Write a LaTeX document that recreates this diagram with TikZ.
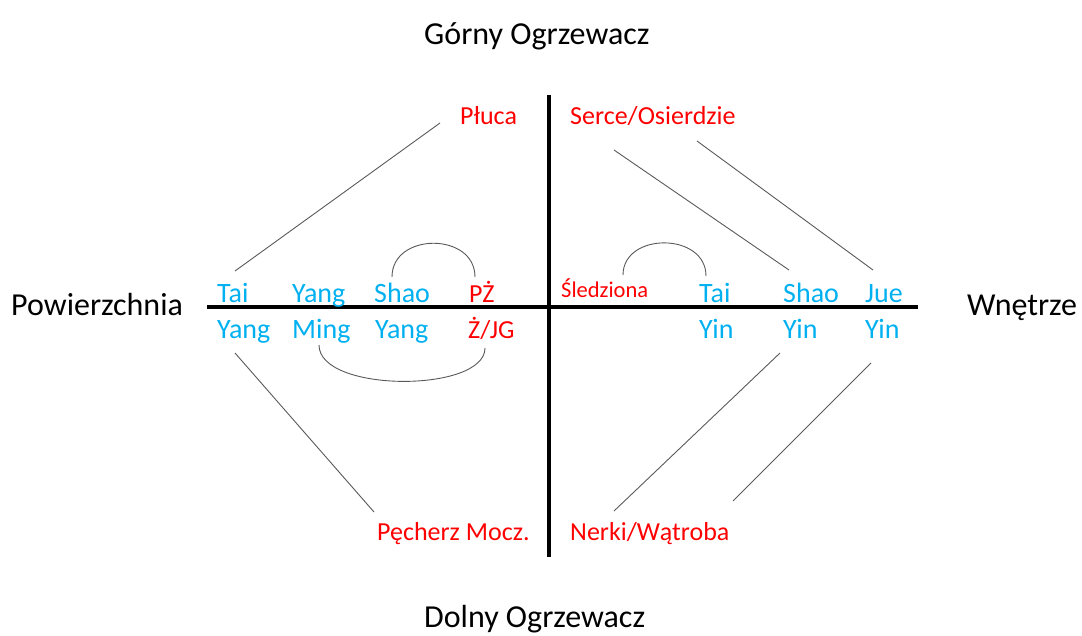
\documentclass[tikz,border=0pt]{standalone}
\usepackage{fontspec}
\setmainfont{Carlito}
\definecolor{yangblue}{HTML}{00B0F0}
\definecolor{organred}{HTML}{FF0000}
\definecolor{linkgray}{HTML}{595959}
\begin{document}
\begin{tikzpicture}[x=1pt,y=-1pt]
\tikzstyle{every node}+=[inner sep=0pt,anchor=base west]
\tikzstyle{region}=[font=\fontsize{32}{36}\selectfont,black]
\tikzstyle{channel}=[font=\fontsize{28}{32}\selectfont,yangblue]
\tikzstyle{organ}=[font=\fontsize{26}{29}\selectfont,organred]
\tikzstyle{link}=[linkgray,line width=0.9pt]
\tikzstyle{axis}=[black,line width=3.2pt]
\useasboundingbox (0,0) rectangle (1082,635);
% axes
\draw [axis] (207,307) -- (918,307);
\draw [axis] (549,95) -- (549,557);
% regions
\node [region] (gorny) at (424,44) {Górny Ogrzewacz};
\node [region] (dolny) at (424,627) {Dolny Ogrzewacz};
\node [region] (pow) at (11,315) {Powierzchnia};
\node [region] (wn) at (967,315) {Wnętrze};
% yang side
\node [channel] (taiA) at (217,302) {Tai};
\node [channel] (yangA) at (292,302) {Yang};
\node [channel] (shaoA) at (374,302) {Shao};
\node [organ] (pz) at (469,302) {PŻ};
\node [channel] (yangB) at (217,338) {Yang};
\node [channel] (ming) at (292,338) {Ming};
\node [channel] (yangC) at (375,338) {Yang};
\node [organ] (zjg) at (468,338) {Ż/JG};
% yin side
\node [organ,font=\fontsize{22.5}{26}\selectfont] (sledz) at (561,297) {Śledziona};
\node [channel] (taiB) at (699,302) {Tai};
\node [channel] (shaoB) at (783,302) {Shao};
\node [channel] (jue) at (865,302) {Jue};
\node [channel] (yinA) at (699,338) {Yin};
\node [channel] (yinB) at (783,338) {Yin};
\node [channel] (yinC) at (865,338) {Yin};
% organs
\node [organ] (pluca) at (460,124) {Płuca};
\node [organ] (serce) at (570,124) {Serce/Osierdzie};
\node [organ] (pecherz) at (377,540) {Pęcherz Mocz.};
\node [organ] (nerki) at (570,540) {Nerki/Wątroba};
% line ends
\coordinate (plucaEnd) at (440,123);
\coordinate (taiTop) at (235,271);
\coordinate (yangBot) at (235,353);
\coordinate (pecherzEnd) at (374,512);
\coordinate (serceA) at (614,150);
\coordinate (serceB) at (697,141);
\coordinate (shaoTop) at (789,270);
\coordinate (jueTop) at (873,270);
\coordinate (yinBBot) at (780,353);
\coordinate (yinCBot) at (871,363);
\coordinate (nerkiA) at (614,511);
\coordinate (nerkiB) at (733,501);
\draw [link] (plucaEnd) -- (taiTop);
\draw [link] (yangBot) -- (pecherzEnd);
\draw [link] (serceA) -- (shaoTop);
\draw [link] (serceB) -- (jueTop);
\draw [link] (yinBBot) -- (nerkiA);
\draw [link] (yinCBot) -- (nerkiB);
% arcs
\draw [link] (392,277) .. controls (392,232) and (475,232) .. (475,277);
\draw [link] (319,345) .. controls (319,393) and (485,393) .. (485,348);
\draw [link] (623,275) .. controls (623,232) and (706,232) .. (706,276);
\end{tikzpicture}
\end{document}
